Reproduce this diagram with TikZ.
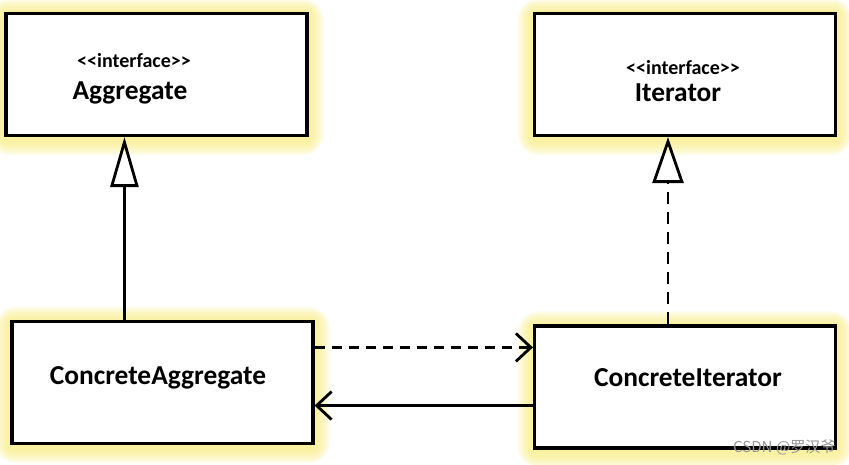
\documentclass[tikz,border=0pt]{standalone}
\usepackage{fontspec}
\newfontfamily\umlfont{Carlito}
\newfontfamily\cjkfont{Noto Sans CJK SC}
\usetikzlibrary{arrows.meta,backgrounds}
\definecolor{glowyellow}{RGB}{248,236,130}
\definecolor{wmgray}{RGB}{150,150,150}

\begin{document}
\begin{tikzpicture}[x = 0.02cm, y = -0.02cm,
  umlbox/.style = {draw, line width = 1.8pt, fill = white,
    minimum width = 6.02cm, minimum height = 2.44cm, inner sep = 0},
  stereo/.style = {font = \umlfont\bfseries\fontsize{11.4}{13}\selectfont,
    anchor = base, inner sep = 0},
  cname/.style = {font = \umlfont\bfseries\fontsize{15.6}{18}\selectfont,
    anchor = base, inner sep = 0},
  inherit/.style = {line width = 1.6pt,
    -{Triangle[open, length = 1cm, width = 0.56cm]}},
  realize/.style = {inherit, dash pattern = on 0.24cm off 0.16cm,
    -{Triangle[open, length = 0.92cm, width = 0.62cm]}},
  assoc/.style = {line width = 1.6pt,
    -{Straight Barb[length = 0.3cm, width = 0.56cm]}},
  depend/.style = {assoc, dash pattern = on 0.2cm off 0.14cm},
  wmark/.style = {font = \cjkfont\fontsize{8.6}{10}\selectfont,
    text = wmgray, inner sep = 0}
  ]
  \useasboundingbox (0, 0) rectangle (849, 465);

  % class boxes
  \node[umlbox] (agg) at (156.5, 74.5) {};
  \node[umlbox] (itr) at (685, 74.5) {};
  \node[umlbox] (cagg) at (162.5, 382.5) {};
  \node[umlbox] (citr) at (685, 387) {};

  \node[stereo] (aggst) at (134, 68) {<<interface>>};
  \node[cname] (aggnm) at (130, 100) {Aggregate};
  \node[stereo] (itrst) at (683, 75) {<<interface>>};
  \node[cname] (itrnm) at (678, 102) {Iterator};
  \node[cname] (caggnm) at (158, 385) {ConcreteAggregate};
  \node[cname] (citrnm) at (688, 387) {ConcreteIterator};

  % yellow glow
  \begin{scope}[on background layer]
    \foreach \n in {agg, itr, cagg, citr}{
      \foreach \k in {1,...,6}{
        \fill[glowyellow, opacity = 0.2, rounded corners = \k*2pt]
        ([shift = {(-2.5*\k, -2.5*\k+2)}]\n.north west) rectangle
        ([shift = {(2.5*\k, 2.5*\k+3)}]\n.south east);
      }
    }
  \end{scope}

  % relations
  \coordinate (genfoot) at ([xshift = 2.28cm]cagg.north west);
  \draw[inherit] (genfoot) -- (genfoot |- agg.south);

  \coordinate (realfoot) at ([xshift = -0.34cm]citr.north);
  \draw[realize] (realfoot) -- (realfoot |- itr.south);

  \coordinate (usestart) at ([yshift = -0.46cm]citr.north west);
  \draw[depend] (usestart -| cagg.east) -- (usestart);

  \coordinate (backstart) at ([yshift = 0.88cm]citr.south west);
  \draw[assoc] (backstart) -- (backstart -| cagg.east);

  \node[wmark, anchor = east] (wm) at (836, 447) {CSDN @罗汉爷};
\end{tikzpicture}
\end{document}
